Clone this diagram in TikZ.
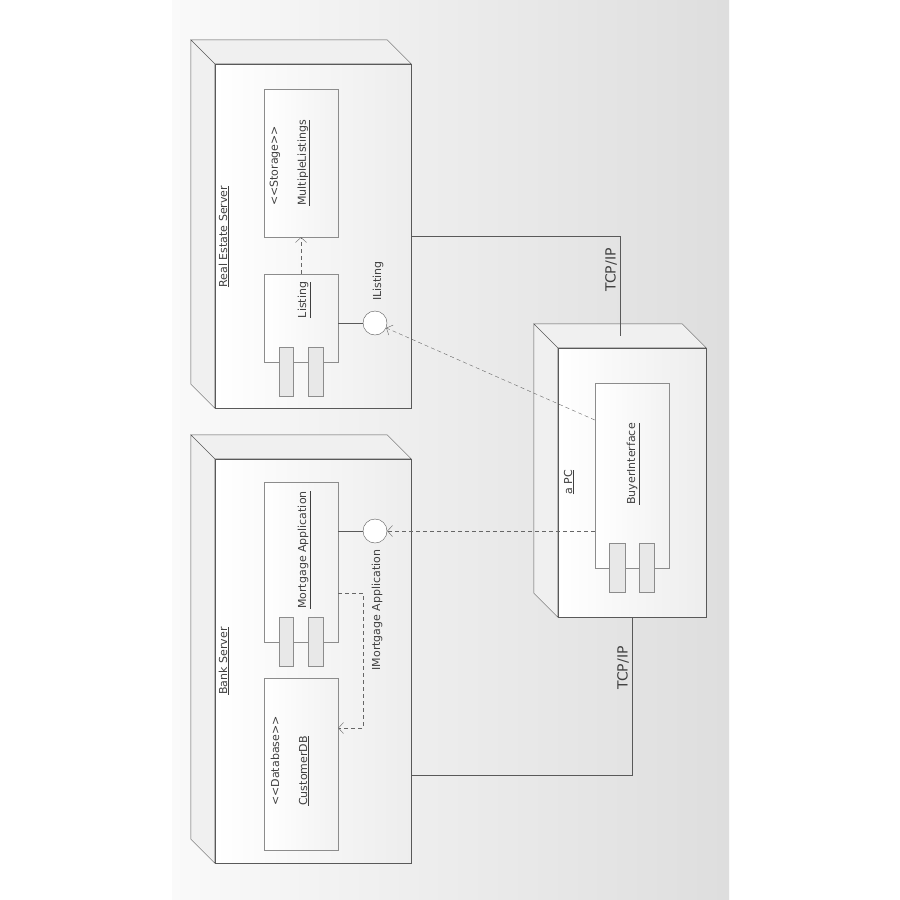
\documentclass[tikz,border=0pt]{standalone}
\usepackage{fontspec}
\setmainfont{DejaVu Sans}
\usetikzlibrary{positioning,arrows.meta}

\begin{document}
\begin{tikzpicture}[
	x=1pt,y=-1pt,
	font=\fontsize{11}{13}\selectfont,
	server/.style={draw=black!65,inner sep=0pt,left color=white,right color=white!93!black},
	side/.style={draw=black!65,fill=white!94!black},
	comp/.style={draw=black!45,inner sep=0pt,minimum width=74pt,left color=white,right color=white!95!black},
	plug/.style={draw=black!45,fill=white!91!black,minimum width=15pt,minimum height=49pt,inner sep=0pt},
	face/.style={draw=black!65,circle,minimum size=24pt,inner sep=0pt,fill=white},
	lbl/.style={rotate=90,inner sep=1pt,text=black!75},
	dep/.style={draw=black!60,dash pattern=on 4pt off 3pt,-{Straight Barb[length=5pt,width=11pt]}},
	link/.style={draw=black!65}
	]
	\useasboundingbox (0,0) rectangle (900,900);
	\fill[white] (0,0) rectangle (900,900);
	\shade[left color=white!98!black,right color=white!87!black] (172,0) rectangle (729,900);
	% nodes
	\node[server,minimum width=196pt,minimum height=344pt] (realestate) at (313,236) {};
	\node[server,minimum width=196pt,minimum height=404pt] (bank) at (313,661) {};
	\node[server,minimum width=148pt,minimum height=269pt] (pc) at (632,482.5) {};
	\filldraw[side]
	(realestate.north west) -- ++(-24,-24) -- ([shift={(-24,-24)}]realestate.north east) -- (realestate.north east) -- cycle
	(realestate.north west) -- ++(-24,-24) -- ([shift={(-24,-24)}]realestate.south west) -- (realestate.south west) -- cycle
	(bank.north west) -- ++(-24,-24) -- ([shift={(-24,-24)}]bank.north east) -- (bank.north east) -- cycle
	(bank.north west) -- ++(-24,-24) -- ([shift={(-24,-24)}]bank.south west) -- (bank.south west) -- cycle
	(pc.north west) -- ++(-24,-24) -- ([shift={(-24,-24)}]pc.north east) -- (pc.north east) -- cycle
	(pc.north west) -- ++(-24,-24) -- ([shift={(-24,-24)}]pc.south west) -- (pc.south west) -- cycle;
	\node[lbl] (realestatelabel) at (224,236.5) {\underline{Real Estate Server}};
	\node[lbl] (banklabel) at (224,661) {\underline{Bank Server}};
	\node[lbl] (pclabel) at (569,482) {\underline{a PC}};
	% components
	\node[comp,minimum height=148pt] (storage) at (301,163) {};
	\node[comp,minimum height=88pt] (listing) at (301,318) {};
	\node[plug,minimum width=14pt] (listingplugA) at (286,371.5) {};
	\node[plug] (listingplugB) at (315.5,371.5) {};
	\node[comp,minimum height=160pt] (mortgage) at (301,562) {};
	\node[plug,minimum width=14pt] (mortgageplugA) at (286,641.5) {};
	\node[plug] (mortgageplugB) at (315.5,641.5) {};
	\node[comp,minimum height=172pt] (customerdb) at (301,764) {};
	\node[comp,minimum height=185pt] (buyer) at (632,475.5) {};
	\node[plug,minimum width=16pt] (buyerplugA) at (617,567.5) {};
	\node[plug] (buyerplugB) at (646.5,567.5) {};
	\node[lbl,align=left,font=\fontsize{11}{28}\selectfont] (storagelabel) at (290,163) {<{}<Storage>{}>\\\underline{MultipleListings}};
	\node[lbl] (listinglabel) at (304,300) {\underline{Listing}};
	\node[lbl] (mortgagelabel) at (304,550) {\underline{Mortgage Application}};
	\node[lbl,align=left,font=\fontsize{11}{28}\selectfont] (customerdblabel) at (290,761) {<{}<Database>{}>\\\underline{CustomerDB}};
	\node[lbl] (buyerlabel) at (633,464) {\underline{BuyerInterface}};
	% interfaces
	\node[face] (ilisting) at (375,323) {};
	\node[face] (imortgage) at (375,531) {};
	\node[lbl] (ilistinglabel) at (378,281) {IListing};
	\node[lbl] (imortgagelabel) at (377,610) {IMortgage Application};
	\coordinate (pctop) at ([shift={(-12,-12)}]pc.north);
	\coordinate (bankport) at ([yshift=88pt]bank.south east);
	\draw[link] (ilisting) -- (ilisting -| listing.east);
	\draw[link] (imortgage) -- (imortgage -| mortgage.east);
	\draw[link] (realestate.east) -| (pctop);
	\draw[link] (pc.south) |- (bankport);
	\draw[dep] (listing.north) -- (storage.south);
	\draw[dep] ([yshift=-31pt]mortgage.east) -- ++(25,0) |- ([yshift=36pt]customerdb.east);
	\draw[dep] ([yshift=55.5pt]buyer.west) -- (ilisting);
	\draw[dep] ([yshift=-55.5pt]buyer.west) -- (imortgage);
	\node[lbl,font=\fontsize{14}{16}\selectfont] (tcptop) at (611,270) {TCP/IP};
	\node[lbl,font=\fontsize{14}{16}\selectfont] (tcpbottom) at (623,668) {TCP/IP};
\end{tikzpicture}
\end{document}
